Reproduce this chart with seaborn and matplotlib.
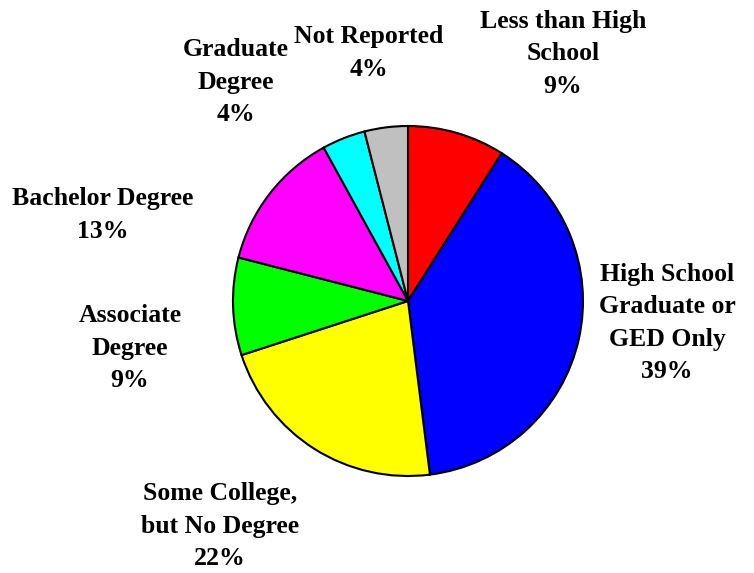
import matplotlib
matplotlib.use("Agg")
import matplotlib.pyplot as plt
import seaborn as sns

categories = ["Less than High\nSchool", "High School\nGraduate or\nGED Only",
              "Some College,\nbut No Degree", "Associate\nDegree",
              "Bachelor Degree", "Graduate\nDegree", "Not Reported"]
values = [9, 39, 22, 9, 13, 4, 4]
colors = ["#FF0000", "#0000FF", "#FFFF00", "#00FF00", "#FF00FF", "#00FFFF", "#C0C0C0"]
# label centres (figure pixels)
label_pos = [(563, 54), (667, 323), (220, 526), (130, 348), (103, 215), (236, 82), (369, 53)]

sns.set_theme(style="white")
plt.rcParams['font.family'] = ['Liberation Serif', 'DejaVu Serif']

W, H = 754, 573
fig = plt.figure(figsize=(W / 100, H / 100), dpi=100)
ax = fig.add_axes([0, 0, 1, 1])
cx, cy, r = 408, 301, 175
ax.pie(values, colors=colors, startangle=90, counterclock=False, radius=1,
       wedgeprops=dict(edgecolor="black", linewidth=1.5))
ax.set_xlim(-cx / r, (W - cx) / r)
ax.set_ylim(-(H - cy) / r, cy / r)
ax.set_aspect("equal")
ax.axis("off")

for cat, v, (px, py) in zip(categories, values, label_pos):
    fig.text(px / W, 1 - py / H, f"{cat}\n{v}%", ha="center", va="center",
             fontsize=18.5, fontweight="bold", linespacing=1.52, color="black")

fig.savefig("out.png", dpi=100, facecolor="white")
